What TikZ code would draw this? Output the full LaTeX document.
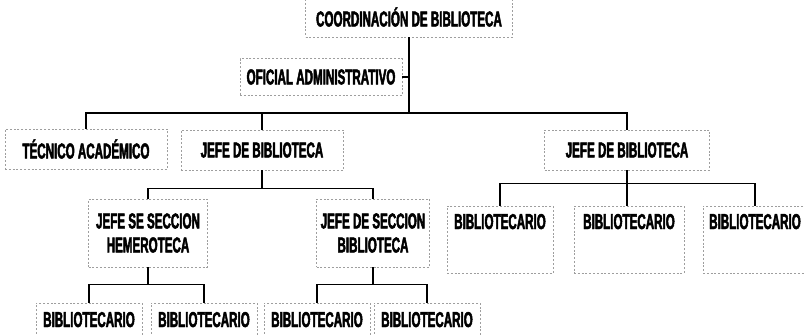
\documentclass[tikz,border=0pt]{standalone}
\usepackage{fontspec}
\setmainfont{Liberation Sans}[FakeStretch=0.54,BoldFeatures={FakeBold=2.2}]
\usepackage{tikz}
\tikzstyle{cargo}=[rectangle,draw=black!38,dash pattern=on 2pt off 1.8pt,line width=0.6pt,
  font=\fontsize{21.5}{24}\selectfont\bfseries,align=center,inner sep=0pt]
\tikzstyle{linea}=[line width=1.3pt,line cap=rect]

\begin{document}
\begin{tikzpicture}[x=1pt,y=-1pt]
        \useasboundingbox (0,0) rectangle (804,335);
        % niveles superiores
        \node[cargo,minimum width=207,minimum height=40] (coord) at (409,17) {COORDINACIÓN DE BIBLIOTECA};
        \node[cargo,minimum width=162,minimum height=37] (ofic) at (321,77) {OFICIAL ADMINISTRATIVO};
        \node[cargo,minimum width=162,minimum height=40] (tec) at (86,149) {TÉCNICO ACADÉMICO};
        \node[cargo,minimum width=162,minimum height=40] (jefeA) at (262,150) {JEFE DE BIBLIOTECA};
        \node[cargo,minimum width=165,minimum height=40] (jefeB) at (627,150) {JEFE DE BIBLIOTECA};
        % secciones
        \node[cargo,minimum width=119,minimum height=68] (hem) at (148,233) {JEFE SE SECCION\\HEMEROTECA};
        \node[cargo,minimum width=113,minimum height=68] (secc) at (373,233) {JEFE DE SECCION\\BIBLIOTECA};
        % bibliotecarios
        \node[cargo,anchor=base,text width=106,text height=15,text depth=36,inner ysep=8] (b1) at (500,229) {BIBLIOTECARIO};
        \node[cargo,anchor=base,text width=110,text height=15,text depth=36,inner ysep=8] (b2) at (629,229) {BIBLIOTECARIO};
        \node[cargo,anchor=base,text width=104,text height=15,text depth=36,inner ysep=8] (b3) at (755,229) {BIBLIOTECARIO};
        \node[cargo,anchor=base,text width=106,text height=15,text depth=30,inner ysep=9] (h1) at (89,327) {BIBLIOTECARIO};
        \node[cargo,anchor=base,text width=106,text height=15,text depth=30,inner ysep=9] (h2) at (204,327) {BIBLIOTECARIO};
        \node[cargo,anchor=base,text width=106,text height=15,text depth=30,inner ysep=9] (s1) at (317,327) {BIBLIOTECARIO};
        \node[cargo,anchor=base,text width=106,text height=15,text depth=30,inner ysep=9] (s2) at (427,327) {BIBLIOTECARIO};
        % conectores
        \coordinate (barra) at (409,113);
        \draw[linea] (coord.south) -- (barra);
        \draw[linea] (ofic.east) -- (ofic.east -| coord.south);
        \draw[linea] (barra) -| (tec.north);
        \draw[linea] (barra) -| (jefeA.north);
        \draw[linea] (barra) -| (jefeB.north);
        \draw[linea] (jefeA.south) -- ++(0,18) -| (hem.north);
        \draw[linea] (jefeA.south) -- ++(0,18) -| (secc.north);
        \draw[linea] (jefeB.south) -- ++(0,13) -| (b1.north);
        \draw[linea] (jefeB.south) -- (jefeB.south |- b2.north);
        \draw[linea] (jefeB.south) -- ++(0,13) -| (b3.north);
        \draw[linea] (hem.south) -- ++(0,17) -| (h1.north);
        \draw[linea] (hem.south) -- ++(0,17) -| (h2.north);
        \draw[linea] (secc.south) -- ++(0,17) -| (s1.north);
        \draw[linea] (secc.south) -- ++(0,17) -| (s2.north);
\end{tikzpicture}
\end{document}
